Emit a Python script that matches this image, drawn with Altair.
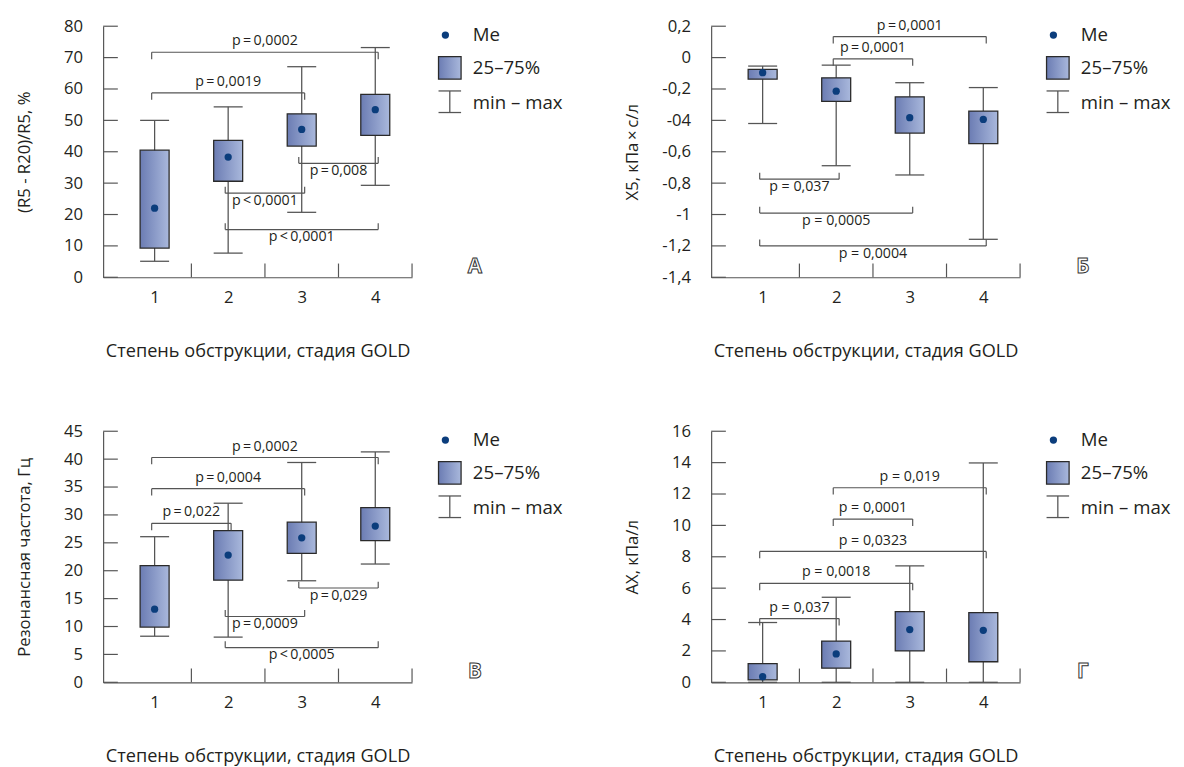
import altair as alt
import pandas as pd

FONT = "Open Sans"
TXT = "#231f20"
LINE = "#555555"
BOXSTROKE = "#2a2a2a"
MEDCOL = "#0b3d7c"

stages = [1, 2, 3, 4]
x_title = "Степень обструкции, стадия GOLD"
legend_labels = ["Me", "25–75%", "min – max"]

# ---- Panel А
a_min = [5.1, 7.7, 20.7, 29.3]
a_q1 = [9.3, 30.6, 41.8, 45.2]
a_med = [22.0, 38.3, 47.1, 53.4]
a_q3 = [40.5, 43.6, 52.1, 58.3]
a_max = [50.0, 54.3, 67.1, 73.2]
a_ticks = [0, 10, 20, 30, 40, 50, 60, 70, 80]
a_ticklabels = ["0", "10", "20", "30", "40", "50", "60", "70", "80"]
a_br_from = [1, 1, 2, 3, 2]
a_br_to = [4, 3, 3, 4, 4]
a_br_level = [71.7, 58.75, 26.8, 36.3, 15.2]
a_br_dir = ["down", "down", "up", "up", "up"]
a_br_label = ["p\u2009=\u20090,0002", "p\u2009=\u20090,0019", "p\u2009<\u20090,0001",
              "p\u2009=\u20090,008", "p\u2009<\u20090,0001"]

# ---- Panel Б
b_min = [-0.42, -0.689, -0.748, -1.158]
b_q1 = [-0.1375, -0.279, -0.481, -0.548]
b_med = [-0.096, -0.214, -0.383, -0.394]
b_q3 = [-0.075, -0.129, -0.25, -0.341]
b_max = [-0.054, -0.048, -0.16, -0.191]
b_ticks = [0.2, 0, -0.2, -0.4, -0.6, -0.8, -1, -1.2, -1.4]
b_ticklabels = ["0,2", "0", "-0,2", "-04", "-0,6", "-0,8", "-1", "-1,2", "-1,4"]
b_br_from = [2, 2, 1, 1, 1]
b_br_to = [4, 3, 2, 3, 4]
b_br_level = [0.134, -0.008, -0.775, -0.991, -1.2]
b_br_dir = ["down", "down", "up", "up", "up"]
b_br_label = ["p\u2009=\u20090,0001", "p\u2009=\u20090,0001", "p = 0,037",
              "p = 0,0005", "p = 0,0004"]

# ---- Panel В
c_min = [8.26, 8.1, 18.2, 21.2]
c_q1 = [9.9, 18.3, 23.1, 25.4]
c_med = [13.1, 22.8, 25.9, 28.0]
c_q3 = [20.9, 27.2, 28.7, 31.3]
c_max = [26.1, 32.1, 39.4, 41.3]
c_ticks = [0, 5, 10, 15, 20, 25, 30, 35, 40, 45]
c_ticklabels = ["0", "5", "10", "15", "20", "25", "30", "35", "40", "45"]
c_br_from = [1, 1, 1, 2, 3, 2]
c_br_to = [4, 3, 2, 3, 4, 4]
c_br_level = [40.3, 34.7, 28.5, 11.8, 16.9, 6.2]
c_br_dir = ["down", "down", "down", "up", "up", "up"]
c_br_label = ["p\u2009=\u20090,0002", "p\u2009=\u20090,0004", "p\u2009=\u20090,022",
              "p\u2009=\u20090,0009", "p\u2009=\u20090,029", "p\u2009<\u20090,0005"]

# ---- Panel Г
d_min = [0, 0, 0, 0]
d_q1 = [0.15, 0.9, 2.0, 1.31]
d_med = [0.36, 1.81, 3.36, 3.31]
d_q3 = [1.19, 2.63, 4.5, 4.44]
d_max = [3.81, 5.42, 7.42, 13.98]
d_ticks = [0, 2, 4, 6, 8, 10, 12, 14, 16]
d_ticklabels = ["0", "2", "4", "6", "8", "10", "12", "14", "16"]
d_br_from = [2, 2, 1, 1, 1]
d_br_to = [4, 3, 4, 3, 2]
d_br_level = [12.4, 10.4, 8.34, 6.31, 4.06]
d_br_dir = ["down", "down", "down", "down", "down"]
d_br_label = ["p = 0,019", "p = 0,0001", "p = 0,0323", "p = 0,0018", "p = 0,037"]

W, H = 315, 256
GRAD = alt.LinearGradient(
    gradient="linear",
    stops=[alt.GradientStop(color="#6b7cb3", offset=0),
           alt.GradientStop(color="#a9b8dc", offset=1)],
    x1=0, x2=1, y1=0, y2=0,
)


def label_expr(ticks, labels):
    expr = "''"
    for v, lab in zip(reversed(ticks), reversed(labels)):
        expr = f"datum.value == {v} ? '{lab}' : ({expr})"
    return expr


def panel(vmin, q1, med, q3, vmax, ticks, ticklabels, ytitle,
          br_from, br_to, br_level, br_dir, br_label, letter):
    df = pd.DataFrame({"stage": stages, "lo": vmin, "q1": q1, "med": med,
                       "q3": q3, "hi": vmax})
    ydom = [min(ticks), max(ticks)]
    xscale = alt.Scale(domain=[0.3, 4.5], nice=False, zero=False)
    yscale = alt.Scale(domain=ydom, nice=False, zero=False)
    xaxis = alt.Axis(values=stages, format="d", ticks=False, grid=False,
                     domainColor=LINE, domainWidth=1.2, labelFont=FONT,
                     labelFontSize=17, labelColor=TXT, labelPadding=13,
                     title=x_title, titleFont=FONT, titleFontSize=18.5,
                     titleFontWeight="normal", titleColor=TXT, titleY=75,
                     titleBaseline="middle")
    yaxis = alt.Axis(values=ticks, labelExpr=label_expr(ticks, ticklabels),
                     ticks=False, grid=False, domainColor=LINE, domainWidth=1.2,
                     labelFont=FONT, labelFontSize=17, labelColor=TXT,
                     labelPadding=21, title=ytitle, titleFont=FONT,
                     titleFontSize=17, titleFontWeight="normal",
                     titleColor=TXT, titleX=-80, titleBaseline="middle")

    def X(f):
        return alt.X(f, scale=xscale, axis=xaxis)

    def Y(f):
        return alt.Y(f, scale=yscale, axis=yaxis)

    base = alt.Chart(df)
    # y tick marks (inside)
    ytk = alt.Chart(pd.DataFrame({"t": ticks})).mark_rule(
        color=LINE, strokeWidth=1.2).encode(
        y=Y("t:Q"), x=alt.value(0), x2=alt.value(15))
    # x tick marks (inside, between groups)
    xtk = alt.Chart(pd.DataFrame({"b": [1.5, 2.5, 3.5, 4.5]})).mark_rule(
        color=LINE, strokeWidth=1.2).encode(
        x=X("b:Q"), y=alt.value(H), y2=alt.value(H - 14))

    whisk = base.mark_rule(color=LINE, strokeWidth=1.3).encode(
        x=X("stage:Q"), y=Y("lo:Q"), y2="hi:Q")
    capbase = base.transform_calculate(xa="datum.stage - 0.197",
                                       xb="datum.stage + 0.197")
    cap_lo = capbase.mark_rule(color=LINE, strokeWidth=1.3).encode(
        x=X("xa:Q"), x2="xb:Q", y=Y("lo:Q"))
    cap_hi = capbase.mark_rule(color=LINE, strokeWidth=1.3).encode(
        x=X("xa:Q"), x2="xb:Q", y=Y("hi:Q"))
    box = capbase.mark_rect(fill=GRAD, stroke=BOXSTROKE, strokeWidth=1.3).encode(
        x=X("xa:Q"), x2="xb:Q", y=Y("q1:Q"), y2="q3:Q")
    dots = base.mark_circle(color=MEDCOL, opacity=1, size=55).encode(
        x=X("stage:Q"), y=Y("med:Q"))

    bdf = pd.DataFrame({"f": br_from, "t": br_to, "lev": br_level,
                        "dir": br_dir, "lab": br_label})
    bb = alt.Chart(bdf).transform_calculate(
        x1="datum.f - 0.04", x2="datum.t + 0.04", xm="(datum.f + datum.t) / 2")
    hline = bb.mark_rule(color=LINE, strokeWidth=1.2).encode(
        x=X("x1:Q"), x2="x2:Q", y=Y("lev:Q"))
    layers = [ytk, xtk, whisk, cap_lo, cap_hi, box, dots, hline]
    for d, off, dy in (("down", 7, -11), ("up", -6.5, 8)):
        sub = bb.transform_filter(f"datum.dir == '{d}'")
        for col in ("x1", "x2"):
            layers.append(sub.mark_rule(color=LINE, strokeWidth=1.2,
                                        y2Offset=off).encode(
                x=X(f"{col}:Q"), y=Y("lev:Q"), y2="lev:Q"))
        layers.append(sub.mark_text(font=FONT, fontSize=14.5, color=TXT,
                                    baseline="middle", dy=dy).encode(
            x=X("xm:Q"), y=Y("lev:Q"), text="lab:N"))

    one = alt.Chart(pd.DataFrame({"k": [0]}))
    # legend
    layers.append(one.mark_circle(color=MEDCOL, opacity=1, size=55).encode(
        x=alt.value(349), y=alt.value(9)))
    layers.append(one.mark_rect(fill=GRAD, stroke=BOXSTROKE, strokeWidth=1.3).encode(
        x=alt.value(342), x2=alt.value(365), y=alt.value(31), y2=alt.value(54)))
    layers.append(one.mark_rule(color=LINE, strokeWidth=1.3).encode(
        x=alt.value(353.5), y=alt.value(66), y2=alt.value(88)))
    layers.append(one.mark_rule(color=LINE, strokeWidth=1.3).encode(
        x=alt.value(342), x2=alt.value(365), y=alt.value(66)))
    layers.append(one.mark_rule(color=LINE, strokeWidth=1.3).encode(
        x=alt.value(342), x2=alt.value(365), y=alt.value(88)))
    for lab, yy in zip(legend_labels, (9, 43, 78)):
        layers.append(one.mark_text(text=lab, font=FONT, fontSize=19, color=TXT,
                                    align="left", baseline="middle").encode(
            x=alt.value(377), y=alt.value(yy)))
    layers.append(one.mark_text(text=letter, font=FONT, fontSize=21,
                                fontWeight="bold", fill="white", stroke="#333333",
                                strokeWidth=1, baseline="middle").encode(
        x=alt.value(379), y=alt.value(246)))

    return alt.layer(*layers).properties(width=W, height=H)


pA = panel(a_min, a_q1, a_med, a_q3, a_max, a_ticks, a_ticklabels,
           "(R5 - R20)/R5, %", a_br_from, a_br_to, a_br_level, a_br_dir,
           a_br_label, "А")
pB = panel(b_min, b_q1, b_med, b_q3, b_max, b_ticks, b_ticklabels,
           "X5, кПа\u2009×\u2009с/л", b_br_from, b_br_to, b_br_level, b_br_dir,
           b_br_label, "Б")
pC = panel(c_min, c_q1, c_med, c_q3, c_max, c_ticks, c_ticklabels,
           "Резонансная частота, Гц", c_br_from, c_br_to, c_br_level, c_br_dir,
           c_br_label, "В")
pD = panel(d_min, d_q1, d_med, d_q3, d_max, d_ticks, d_ticklabels,
           "AX, кПа/л", d_br_from, d_br_to, d_br_level, d_br_dir,
           d_br_label, "Г")

chart = alt.vconcat(
    alt.hconcat(pA, pB, spacing=61),
    alt.hconcat(pC, pD, spacing=61),
    spacing=63,
).properties(
    padding={"left": 7, "top": 2, "right": 5, "bottom": 5},
    background="white",
).configure_view(stroke=None)

chart.save("out.html", embed_options={"renderer": "svg", "actions": False})
